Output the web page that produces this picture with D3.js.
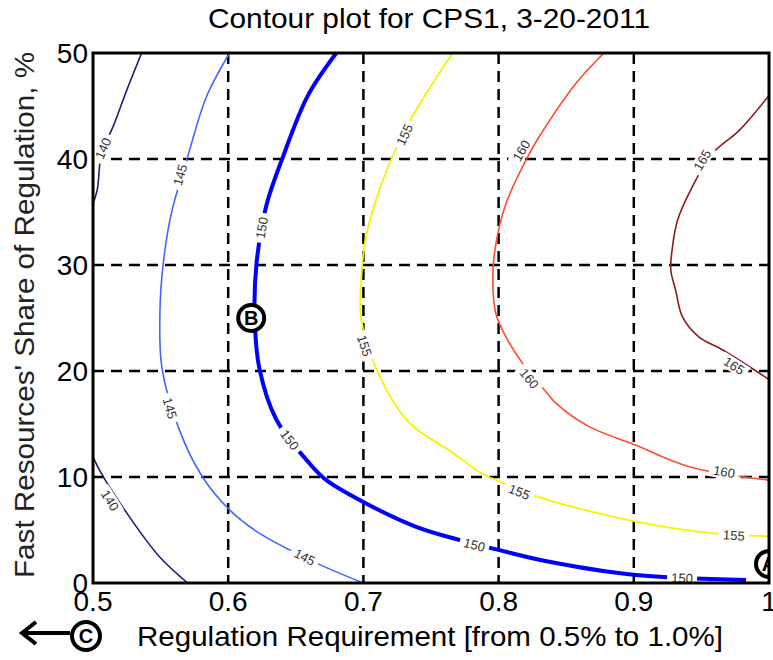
<!DOCTYPE html>
<meta charset="utf-8">
<script src="https://cdn.jsdelivr.net/npm/d3@7"></script>
<style>
  body { margin: 0; background: #fff; }
  text { font-family: Arial, "Liberation Sans", sans-serif; }
</style>
<div id="base"></div>
<script>
// contour lines: [regulation requirement, fast share %]
var c140a = [[0.536, 50], [0.525, 46.5], [0.515, 43.1], [0.5064, 40.6], [0.503, 37.0], [0.499, 35.5]];
var c140b = [[0.499, 12.2], [0.505, 10.6], [0.525, 6.6], [0.549, 2.5], [0.570, 0]];
var c145 = [[0.601, 50], [0.584, 45.9], [0.570, 40.2], [0.558, 34.9], [0.552, 30.2], [0.5495, 25.5],
    [0.551, 20.3], [0.564, 14.4], [0.581, 10.0], [0.601, 6.9], [0.623, 4.7], [0.665, 1.9], [0.700, 0]];
var c150 = [[0.680, 50], [0.659, 46.0], [0.6405, 40.2], [0.628, 35.5], [0.621, 30.2], [0.6195, 25.5],
    [0.623, 20.3], [0.6357, 15.4], [0.660, 11.3], [0.6726, 9.7], [0.702, 7.5], [0.739, 5.3],
    [0.771, 4.06], [0.8006, 3.1], [0.8375, 2.0], [0.9016, 0.75], [0.983, 0.28]];
var c155 = [[0.766, 50], [0.749, 46.7], [0.733, 43.3], [0.7193, 39.6], [0.707, 35.2], [0.701, 32],
    [0.6985, 28.9], [0.6985, 24.8], [0.712, 19.5], [0.734, 15.1], [0.7637, 12.5], [0.788, 10.3],
    [0.8006, 9.6], [0.830, 8.1], [0.9016, 5.8], [0.958, 4.7], [1.0, 4.4]];
var c160 = [[0.878, 50], [0.857, 47.1], [0.830, 42.1], [0.8227, 40.5], [0.8055, 35.8], [0.798, 32.0],
    [0.7957, 28.9], [0.798, 25.4], [0.8055, 23.2], [0.8178, 20.7], [0.836, 17.9], [0.8425, 16.95],
    [0.867, 14.75], [0.9016, 13.0], [0.941, 10.97], [1.0, 9.7]];
var c165 = [[1.0, 46.0], [0.978, 42.7], [0.958, 40.5], [0.941, 36.8], [0.9323, 34.2], [0.9286, 31.7],
    [0.9274, 29.5], [0.931, 27.6], [0.936, 25.1], [0.9483, 23.2], [0.9655, 22.0], [1.0, 19.2]];

// label positions on each contour
var lab140 = [[0.5074, 41.0], [0.5126, 7.8]];
var lab145 = [[0.5643, 38.5], [0.5569, 16.5], [0.6566, 2.45]];
var lab150 = [[0.6248, 33.5], [0.6455, 13.5], [0.7821, 3.6], [0.9357, 0.47]];
var lab155 = [[0.7304, 42.3], [0.7009, 22.4], [0.8154, 8.6], [0.974, 4.5]];
var lab160 = [[0.8168, 40.8], [0.8227, 19.3], [0.9668, 10.5]];
var lab165 = [[0.9506, 39.9], [0.9742, 20.5]];

var xTicks = [0.5, 0.6, 0.7, 0.8, 0.9, 1];
var yTicks = [0, 10, 20, 30, 40, 50];
var markers = [{ id: "B", x: 0.617, y: 25.0 }, { id: "A", x: 1.0, y: 1.8 }];

var contours = [
    { level: 140, lines: [c140a, c140b], labels: lab140, color: "#1e1e7c", w: 1.6 },
    { level: 145, lines: [c145], labels: lab145, color: "#4466ff", w: 1.6 },
    { level: 150, lines: [c150], labels: lab150, color: "#0000ff", w: 4 },
    { level: 155, lines: [c155], labels: lab155, color: "#f4f400", w: 1.8 },
    { level: 160, lines: [c160], labels: lab160, color: "#ff4c2c", w: 1.6 },
    { level: 165, lines: [c165], labels: lab165, color: "#8b1c1c", w: 1.6 }
];

var margin = { left: 93, top: 53, right: 4, bottom: 77 },
    width = 773 - margin.left - margin.right,
    height = 660 - margin.top - margin.bottom;

var root = d3.select("#base")
    .append("svg")
    .attr("width", 773)
    .attr("height", 660);

var svg = root.append("g")
    .attr("transform", "translate(" + margin.left + "," + margin.top + ")");

var x = d3.scaleLinear().domain([0.5, 1]).range([0, width]);
var y = d3.scaleLinear().domain([0, 50]).range([height, 0]);

svg.append("clipPath").attr("id", "plotclip")
    .append("rect").attr("width", width).attr("height", height);

// grid
svg.append("g").selectAll("line")
    .data(xTicks.slice(1, -1))
    .enter().append("line")
    .attr("x1", function (d) { return x(d); })
    .attr("x2", function (d) { return x(d); })
    .attr("y1", 0).attr("y2", height)
    .attr("stroke", "#000").attr("stroke-width", 2.5)
    .attr("stroke-dasharray", "11,7");
svg.append("g").selectAll("line")
    .data(yTicks.slice(1, -1))
    .enter().append("line")
    .attr("y1", function (d) { return y(d); })
    .attr("y2", function (d) { return y(d); })
    .attr("x1", 0).attr("x2", width)
    .attr("stroke", "#000").attr("stroke-width", 2.5)
    .attr("stroke-dasharray", "11,7");

var line = d3.line()
    .x(function (d) { return x(d[0]); })
    .y(function (d) { return y(d[1]); })
    .curve(d3.curveCatmullRom.alpha(0.5));

var plot = svg.append("g").attr("clip-path", "url(#plotclip)");

contours.forEach(function (c) {
    c.lines.forEach(function (pts) {
        plot.append("path")
            .attr("d", line(pts))
            .attr("fill", "none")
            .attr("stroke", c.color)
            .attr("stroke-width", c.w)
            .attr("stroke-linejoin", "round");
    });
});

// inline labels, rotated along the line
function labelAngle(lines, p) {
    var px = x(p[0]), py = y(p[1]), best = Infinity, ang = 0;
    lines.forEach(function (pts) {
        for (var i = 0; i < pts.length - 1; i++) {
            var ax = x(pts[i][0]), ay = y(pts[i][1]), bx = x(pts[i + 1][0]), by = y(pts[i + 1][1]);
            var mx = (ax + bx) / 2, my = (ay + by) / 2;
            var dd = (mx - px) * (mx - px) + (my - py) * (my - py);
            if (dd < best) { best = dd; ang = Math.atan2(by - ay, bx - ax) * 180 / Math.PI; }
        }
    });
    if (ang > 90) ang -= 180;
    if (ang <= -90) ang += 180;
    return ang;
}

contours.forEach(function (c) {
    c.labels.forEach(function (p) {
        var g = plot.append("g")
            .attr("transform", "translate(" + x(p[0]) + "," + y(p[1]) + ") rotate(" + labelAngle(c.lines, p) + ")");
        g.append("rect")
            .attr("x", -15).attr("y", -7).attr("width", 30).attr("height", 14)
            .attr("fill", "#fff");
        g.append("text")
            .attr("text-anchor", "middle")
            .attr("dy", "0.36em")
            .attr("font-size", "13px")
            .attr("fill", "#333")
            .text(c.level);
    });
});

// frame
svg.append("rect")
    .attr("width", width).attr("height", height)
    .attr("fill", "none").attr("stroke", "#000").attr("stroke-width", 3);

// tick labels
svg.append("g").selectAll("text")
    .data(xTicks)
    .enter().append("text")
    .attr("x", function (d) { return x(d); })
    .attr("y", height + 28)
    .attr("text-anchor", "middle")
    .attr("font-size", "28px")
    .text(function (d) { return d === 1 ? "1" : d.toFixed(1); });

svg.append("g").selectAll("text")
    .data(yTicks)
    .enter().append("text")
    .attr("x", -5)
    .attr("y", function (d) { return y(d); })
    .attr("dy", "0.36em")
    .attr("text-anchor", "end")
    .attr("font-size", "28px")
    .text(function (d) { return d; });

// circled markers
markers.forEach(function (m) {
    var g = plot.append("g").attr("transform", "translate(" + x(m.x) + "," + y(m.y) + ")");
    g.append("circle").attr("r", 13).attr("fill", "#fff").attr("stroke", "#000").attr("stroke-width", 4);
    g.append("text").attr("text-anchor", "middle").attr("dy", "0.36em")
        .attr("font-size", "20px").attr("font-weight", "bold").text(m.id);
});

// title and axis labels
root.append("text")
    .attr("x", 429).attr("y", 28)
    .attr("text-anchor", "middle")
    .attr("font-size", "28px")
    .attr("textLength", 442).attr("lengthAdjust", "spacingAndGlyphs")
    .text("Contour plot for CPS1, 3-20-2011");

root.append("text")
    .attr("x", 430).attr("y", 646)
    .attr("text-anchor", "middle")
    .attr("font-size", "28px")
    .attr("textLength", 586).attr("lengthAdjust", "spacingAndGlyphs")
    .text("Regulation Requirement [from 0.5% to 1.0%]");

root.append("text")
    .attr("transform", "translate(34,315) rotate(-90)")
    .attr("text-anchor", "middle")
    .attr("font-size", "28px")
    .attr("fill", "#222")
    .attr("textLength", 526).attr("lengthAdjust", "spacingAndGlyphs")
    .text("Fast Resources' Share of Regulation, %");

// "C" marker with arrow, below the axis
var cg = root.append("g").attr("transform", "translate(86,636)");
cg.append("path")
    .attr("d", "M-16,-3 L-62,-3 M-50,-14 L-64,-3 L-50,8")
    .attr("fill", "none").attr("stroke", "#000").attr("stroke-width", 4)
    .attr("stroke-linejoin", "miter");
cg.append("circle").attr("r", 14).attr("fill", "#fff").attr("stroke", "#000").attr("stroke-width", 4);
cg.append("text").attr("text-anchor", "middle").attr("dy", "0.36em")
    .attr("font-size", "20px").attr("font-weight", "bold").text("C");
</script>
